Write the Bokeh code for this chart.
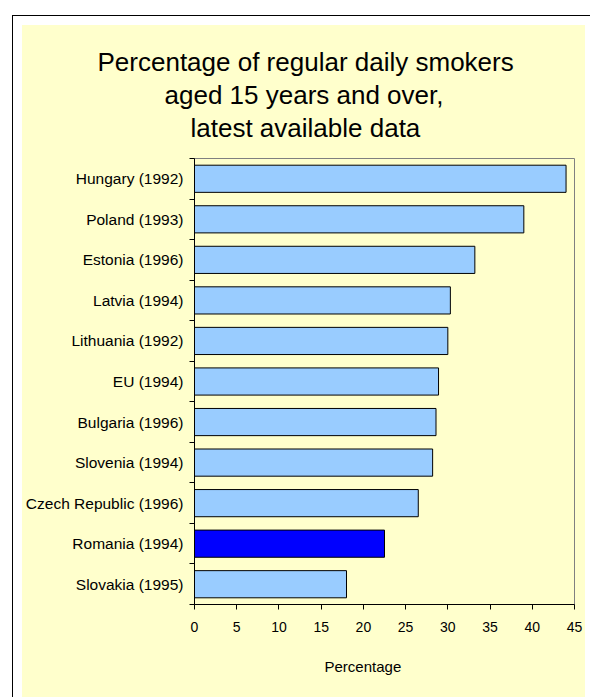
from bokeh.plotting import figure
from bokeh.models import Range1d, FixedTicker, ColumnDataSource, Title
from bokeh.layouts import column
from bokeh.embed import file_html
from bokeh.resources import INLINE

# ---- data ----
categories = ["Hungary (1992)", "Poland (1993)", "Estonia (1996)", "Latvia (1994)",
              "Lithuania (1992)", "EU (1994)", "Bulgaria (1996)", "Slovenia (1994)",
              "Czech Republic (1996)", "Romania (1994)", "Slovakia (1995)"]
values = [44.0, 39.0, 33.2, 30.3, 30.0, 28.9, 28.6, 28.2, 26.5, 22.5, 18.0]
highlight = "Romania (1994)"
x_ticks = [0, 5, 10, 15, 20, 25, 30, 35, 40, 45]
title_lines = ["Percentage of regular daily smokers", "aged 15 years and over,",
               "latest available data"]
x_label = "Percentage"

# ---- styles / layout ----
YEL = "#FFFFCC"
BAR = "#99CCFF"
HL = "#0000FF"
FONT = "Liberation Sans"
W = 563
BL, BR = 171, 11                      # left / right borders of the plotting frame
title_offsets = [-97, -30, -4]        # horizontal placement of each title line
xlabel_offset = 130

n = len(categories)
ypos = [n - 1 - i for i in range(n)]
colors = [HL if c == highlight else BAR for c in categories]
src = ColumnDataSource(dict(y=ypos, v=values, c=colors, name=categories))


def blank(height, **kw):
    f = figure(width=W, height=height, output_backend="svg", toolbar_location=None,
               x_axis_location=None, y_axis_location=None,
               min_border_left=BL, min_border_right=BR, min_border_top=0, min_border_bottom=0,
               background_fill_color=YEL, border_fill_color=YEL, outline_line_color=None, **kw)
    f.grid.visible = False
    return f


# ---- title figure (lines stacked below an empty spacer frame) ----
tfig = blank(118)
for line, off in zip(title_lines, title_offsets):
    tfig.add_layout(Title(text=line, align="left", offset=off, text_font=FONT,
                          text_font_size="26px", text_font_style="normal",
                          text_color="#000000", standoff=1), "below")

# ---- main chart ----
p = figure(width=W, height=496, output_backend="svg", toolbar_location=None,
           x_range=Range1d(0, 45), y_range=Range1d(-0.5, n - 0.5),
           min_border_left=BL, min_border_right=BR, min_border_top=15, min_border_bottom=35,
           background_fill_color=YEL, border_fill_color=YEL,
           outline_line_color="#808080", outline_line_width=1)
p.grid.visible = False
p.hbar(y="y", right="v", left=0, height=0.67, fill_color="c", line_color="#000000",
       line_width=1, source=src)

xa = p.xaxis[0]
xa.ticker = FixedTicker(ticks=x_ticks, minor_ticks=[])
xa.major_tick_in = 0
xa.major_tick_out = 5
xa.minor_tick_line_color = None
xa.axis_line_color = "#000000"
xa.major_tick_line_color = "#000000"
xa.major_label_text_font = FONT
xa.major_label_text_font_size = "14px"
xa.major_label_text_color = "#000000"
xa.major_label_standoff = 12

ya = p.yaxis[0]
ya.ticker = FixedTicker(ticks=ypos, minor_ticks=[k - 0.5 for k in range(n + 1)])
ya.major_label_overrides = {y: name for y, name in zip(ypos, categories)}
ya.major_tick_in = 0
ya.major_tick_out = 0
ya.major_tick_line_color = None
ya.minor_tick_in = 0
ya.minor_tick_out = 5
ya.minor_tick_line_color = "#000000"
ya.axis_line_color = "#000000"
ya.major_label_text_font = FONT
ya.major_label_text_font_size = "15.5px"
ya.major_label_text_color = "#000000"
ya.major_label_standoff = 6

# ---- axis-title figure ----
bfig = blank(58)
bfig.add_layout(Title(text=x_label, align="left", offset=xlabel_offset, text_font=FONT,
                      text_font_size="15px", text_font_style="normal",
                      text_color="#000000", standoff=32), "above")

layout = column(tfig, p, bfig, spacing=0, margin=(25, 0, 0, 22),
                styles={"outline": "1px solid #000000", "outline-offset": "9px",
                        "background-color": YEL})

open("out.html", "w").write(file_html(layout, INLINE))
